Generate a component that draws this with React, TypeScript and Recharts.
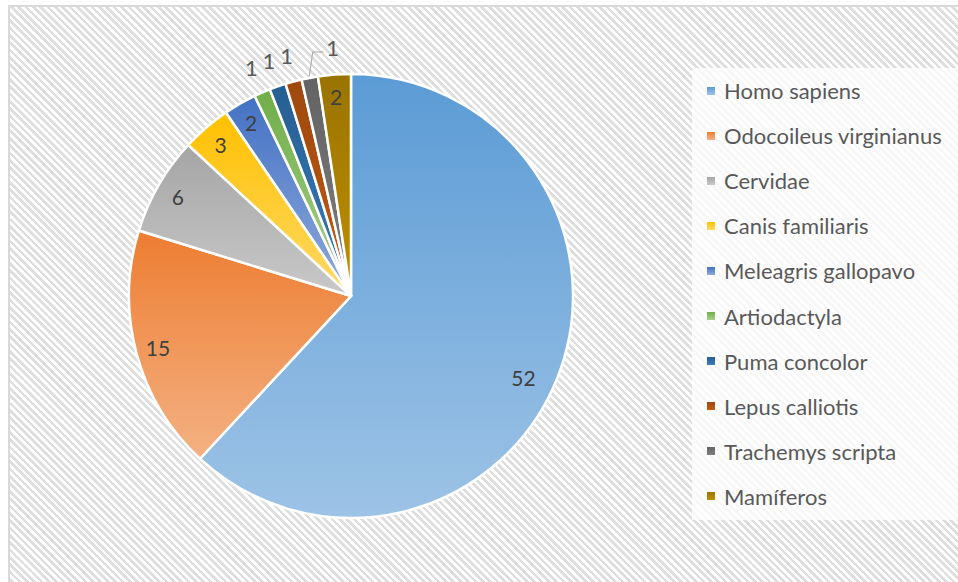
import { PieChart, Pie, Cell, Legend } from "recharts";

const species = [
  "Homo sapiens",
  "Odocoileus virginianus",
  "Cervidae",
  "Canis familiaris",
  "Meleagris gallopavo",
  "Artiodactyla",
  "Puma concolor",
  "Lepus calliotis",
  "Trachemys scripta",
  "Mamíferos",
];
const counts = [52, 15, 6, 3, 2, 1, 1, 1, 1, 2];
const colors = [
  "#5B9BD5",
  "#ED7D31",
  "#A5A5A5",
  "#FFC000",
  "#4472C4",
  "#70AD47",
  "#255E91",
  "#9E480E",
  "#636363",
  "#997300",
];
const lightColors = [
  "#9DC3E6",
  "#F4B183",
  "#C9C9C9",
  "#FFD966",
  "#8FAADC",
  "#A9D18E",
  "#3C7DBE",
  "#C55A11",
  "#7F7F7F",
  "#BF9000",
];

const data = species.map((name, i) => ({ name, value: counts[i] }));

const FONT = "Lato, 'Open Sans', sans-serif";
const RADIAN = Math.PI / 180;

const renderLabel = (props: any) => {
  const { cx, cy, midAngle, outerRadius, value, index } = props;
  const cos = Math.cos(-midAngle * RADIAN);
  const sin = Math.sin(-midAngle * RADIAN);
  if (value > 1) {
    // the big slice's label sits a bit lower, as in the original
    const ang = index === 0 ? -(midAngle - 4) * RADIAN : -midAngle * RADIAN;
    const r = outerRadius * (index === 0 ? 0.86 : 0.9);
    return (
      <text
        x={cx + r * Math.cos(ang)}
        y={cy + r * Math.sin(ang)}
        fill="#404040"
        fontSize={21}
        fontFamily={FONT}
        textAnchor="middle"
        dominantBaseline="central"
      >
        {value}
      </text>
    );
  }
  if (index === 8) {
    // leader line for the last small slice
    const sx = cx + (outerRadius + 2) * cos;
    const sy = cy + (outerRadius + 2) * sin;
    const a = -(midAngle - 1.8) * RADIAN;
    const mx = cx + (outerRadius + 25) * Math.cos(a);
    const my = cy + (outerRadius + 25) * Math.sin(a);
    return (
      <g>
        <polyline
          points={`${sx},${sy} ${mx},${my} ${mx + 11},${my}`}
          fill="none"
          stroke="#a6a6a6"
          strokeWidth={1}
        />
        <text
          x={mx + 20}
          y={my - 4}
          fill="#595959"
          fontSize={22}
          fontFamily={FONT}
          textAnchor="middle"
          dominantBaseline="central"
        >
          {value}
        </text>
      </g>
    );
  }
  const r = outerRadius + 27;
  return (
    <text
      x={cx + r * cos}
      y={cy + r * sin}
      fill="#595959"
      fontSize={22}
      fontFamily={FONT}
      textAnchor="middle"
      dominantBaseline="central"
    >
      {value}
    </text>
  );
};

const renderLegend = () => (
  <div
    style={{
      width: 270,
      height: 452,
      background: "rgba(255,255,255,0.75)",
      boxSizing: "border-box",
    }}
  >
    {species.map((name, i) => (
      <div
        key={name}
        style={{
          height: 45.1,
          display: "flex",
          alignItems: "center",
          fontFamily: FONT,
          fontSize: 22,
          color: "#595959",
          whiteSpace: "nowrap",
        }}
      >
        <span
          style={{
            display: "inline-block",
            width: 8,
            height: 8,
            marginLeft: 15,
            marginRight: 9,
            background: `linear-gradient(${colors[i]}, ${lightColors[i]})`,
          }}
        />
        {name}
      </div>
    ))}
  </div>
);

export default function App() {
  return (
    <div
      style={{
        position: "fixed",
        left: 0,
        top: 0,
        width: 958,
        height: 582,
        overflow: "hidden",
        background: "#fff",
      }}
    >
      <div
        style={{
          position: "absolute",
          left: 8,
          top: 5,
          width: 980,
          height: 600,
          borderLeft: "2px solid #d9d9d9",
          borderTop: "2px solid #d9d9d9",
          background:
            "repeating-linear-gradient(45deg, #ffffff 0px, #ffffff 2.6px, #dedede 2.6px, #dedede 5.2px)",
        }}
      />
      <div style={{ position: "absolute", left: 0, top: 0 }}>
        <PieChart
          width={958}
          height={582}
          margin={{ top: 0, right: 0, bottom: 0, left: 0 }}
        >
          <defs>
            {colors.map((c, i) => (
              <linearGradient key={i} id={`g${i}`} x1="0" y1="0" x2="0" y2="1">
                <stop offset="0%" stopColor={c} />
                <stop offset="100%" stopColor={lightColors[i]} />
              </linearGradient>
            ))}
          </defs>
          <Pie
            data={data}
            dataKey="value"
            nameKey="name"
            cx={351}
            cy={296}
            outerRadius={222}
            startAngle={90}
            endAngle={-270}
            stroke="#ffffff"
            strokeWidth={2.5}
            label={renderLabel}
            labelLine={false}
            isAnimationActive={false}
          >
            {data.map((d, i) => (
              <Cell key={d.name} fill={`url(#g${i})`} />
            ))}
          </Pie>
          <Legend
            layout="vertical"
            align="right"
            verticalAlign="top"
            content={renderLegend}
            wrapperStyle={{ left: 692, top: 68, width: 270, height: 452 }}
          />
        </PieChart>
      </div>
    </div>
  );
}
